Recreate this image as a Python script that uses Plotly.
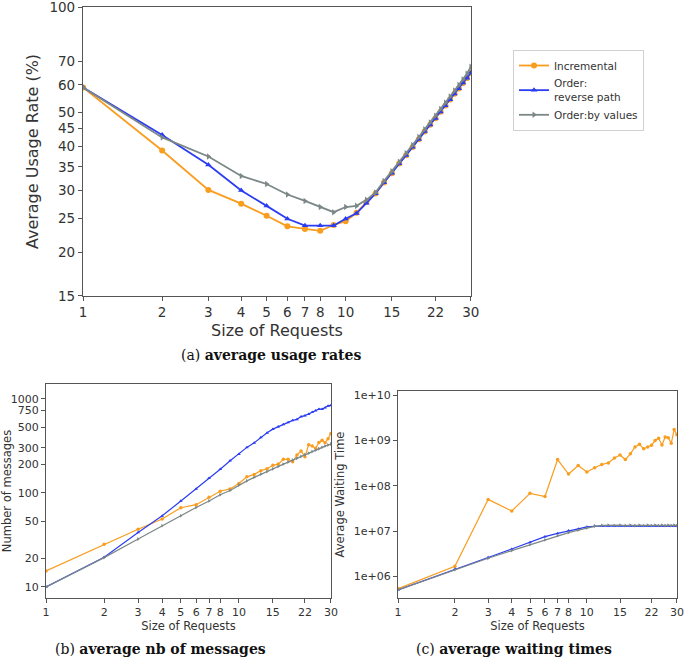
import plotly.graph_objects as go

sizes = list(range(1, 31))

# (a) average usage rates (%)
inc_usage = [59.0, 39.0, 30.1, 27.5, 25.4, 23.7, 23.3, 23.0, 23.9, 24.5, 25.9, 27.8, 29.4, 31.6, 33.6,
             35.8, 37.8, 39.9, 42.0, 44.2, 46.2, 48.2, 50.3, 52.4, 54.5, 56.6, 58.6, 60.8, 62.8, 65.0]
rev_usage = [59.0, 43.2, 35.5, 30.0, 27.1, 24.9, 23.8, 23.8, 23.8, 24.9, 25.8, 27.6, 29.4, 31.6, 33.6,
             35.8, 37.8, 39.9, 42.0, 44.2, 46.2, 48.2, 50.3, 52.4, 54.5, 56.6, 58.6, 60.8, 62.8, 65.0]
val_usage = [59.0, 42.5, 37.5, 33.0, 31.3, 29.2, 28.0, 26.9, 26.0, 26.9, 27.1, 28.2, 29.6, 31.9, 34.0,
             36.2, 38.3, 40.4, 42.6, 44.8, 46.9, 49.0, 51.2, 53.4, 55.6, 57.8, 60.0, 62.2, 64.6, 67.6]

# (b) average number of messages
inc_msgs = [14.8, 28.4, 41, 52.7, 69.5, 74.8, 90, 104, 110, 126, 148, 157, 172, 180, 196,
            202, 227, 227, 214, 252, 278, 242, 324, 314, 297, 343, 361, 340, 376, 428]
rev_msgs = [10, 20.7, 38, 57, 82, 110, 143, 178, 219, 258, 304, 340, 388, 434, 475,
            503, 533, 560, 588, 603, 645, 661, 684, 718, 748, 773, 773, 805, 839, 850]
val_msgs = [10, 20.5, 32.3, 44.8, 57, 70, 82, 95.5, 106, 121, 134, 146, 158, 168, 180,
            191, 202, 212, 223, 233, 243, 254, 264, 274, 284, 294, 304, 314, 322, 330]

# (c) average waiting times
inc_wait = [5.35e5, 1.66e6, 5.0e7, 2.77e7, 6.8e7, 5.8e7, 3.8e8, 1.82e8, 2.8e8, 2.02e8, 2.5e8, 2.95e8,
            3.2e8, 4.1e8, 4.8e8, 3.8e8, 5.1e8, 7.2e8, 8.3e8, 6.6e8, 7.2e8, 7.9e8, 1.0e9, 1.12e9,
            8.0e8, 1.2e9, 1.15e9, 8.7e8, 1.75e9, 1.35e9]
rev_wait = [5.0e5, 1.45e6, 2.6e6, 4.0e6, 5.6e6, 7.5e6, 8.9e6, 1.02e7, 1.12e7, 1.23e7, 1.29e7, 1.30e7,
            1.29e7, 1.30e7, 1.29e7, 1.30e7, 1.29e7, 1.30e7, 1.29e7, 1.30e7, 1.29e7, 1.30e7, 1.29e7,
            1.30e7, 1.29e7, 1.30e7, 1.29e7, 1.30e7, 1.29e7, 1.30e7]
val_wait = [5.0e5, 1.4e6, 2.5e6, 3.7e6, 5.0e6, 6.4e6, 7.9e6, 9.2e6, 1.05e7, 1.17e7, 1.27e7, 1.33e7,
            1.35e7, 1.32e7, 1.35e7, 1.32e7, 1.35e7, 1.32e7, 1.35e7, 1.32e7, 1.35e7, 1.32e7, 1.35e7,
            1.32e7, 1.35e7, 1.32e7, 1.35e7, 1.32e7, 1.35e7, 1.32e7]

x_ticks = [1, 2, 3, 4, 5, 6, 7, 8, 10, 15, 22, 30]
usage_ticks = [15, 20, 25, 30, 35, 40, 45, 50, 60, 70, 100]
msg_ticks = [10, 20, 50, 100, 200, 300, 500, 750, 1000]
wait_ticks = [1e6, 1e7, 1e8, 1e9, 1e10]
wait_labels = ["1e+06", "1e+07", "1e+08", "1e+09", "1e+10"]

names = ["Incremental", "Order:<br>reverse path", "Order:by values"]
colors = ["#f99d1f", "#2b3df2", "#7c8787"]
symbols = ["circle", "triangle-up", "triangle-right"]

W, H = 685, 659
def dx(a, b):
    return [a / W, b / W]
def dy(top, bottom):
    return [1 - bottom / H, 1 - top / H]

fig = go.Figure()

series = [
    ("x", "y", [inc_usage, rev_usage, val_usage], 6, 1.8, True),
    ("x2", "y2", [inc_msgs, rev_msgs, val_msgs], 3.5, 1.2, False),
    ("x3", "y3", [inc_wait, rev_wait, val_wait], 3.5, 1.2, False),
]
for xa, ya, data, ms, lw, show in series:
    for i, vals in enumerate(data):
        fig.add_trace(go.Scatter(
            x=sizes, y=vals, xaxis=xa, yaxis=ya, mode="lines+markers",
            name=names[i], showlegend=show, legendgroup=str(i),
            line=dict(color=colors[i], width=lw),
            marker=dict(color=colors[i], symbol=symbols[i], size=ms if i == 0 else ms * 0.95),
        ))

axcol = "#555555"
txtcol = "#333333"
def axis_common(fs):
    return dict(type="log", showgrid=False, zeroline=False, showline=True, linecolor=axcol,
                linewidth=1.2, mirror=True, ticks="outside", ticklen=4, tickcolor=axcol,
                automargin=False, ticklabeloverflow="allow",
                tickfont=dict(family="DejaVu Sans", size=fs, color=txtcol))

fig.update_layout(
    width=W, height=H, margin=dict(l=0, r=0, t=0, b=0, autoexpand=False),
    paper_bgcolor="white", plot_bgcolor="white",
    font=dict(family="DejaVu Sans", color=txtcol),
    xaxis=dict(**axis_common(13.5), domain=dx(83, 471), range=[-0.0005, 1.4776], anchor="y",
               tickvals=x_ticks, ticktext=[str(v) for v in x_ticks],
               title=dict(text="Size of Requests", font=dict(size=16, color=txtcol), standoff=5)),
    yaxis=dict(**axis_common(13.5), domain=dy(7, 296), range=[1.1758, 2.0006], anchor="x",
               tickvals=usage_ticks, ticktext=[str(v) for v in usage_ticks],
               title=dict(text="Average Usage Rate (%)", font=dict(size=16, color=txtcol), standoff=6)),
    xaxis2=dict(**axis_common(11), domain=dx(46, 331), range=[-0.0005, 1.4776], anchor="y2",
                tickvals=x_ticks, ticktext=[str(v) for v in x_ticks],
                title=dict(text="Size of Requests", font=dict(size=11.5, color=txtcol), standoff=3)),
    yaxis2=dict(**axis_common(11), domain=dy(384, 598), range=[0.883, 3.156], anchor="x2",
                tickvals=msg_ticks, ticktext=[str(v) for v in msg_ticks],
                title=dict(text="Number of messages", font=dict(size=11.5, color=txtcol), standoff=2)),
    xaxis3=dict(**axis_common(11), domain=dx(398, 677), range=[-0.0005, 1.4776], anchor="y3",
                tickvals=x_ticks, ticktext=[str(v) for v in x_ticks],
                title=dict(text="Size of Requests", font=dict(size=11.5, color=txtcol), standoff=3)),
    yaxis3=dict(**axis_common(11), domain=dy(391, 598), range=[5.52, 10.095], anchor="x3",
                tickvals=wait_ticks, ticktext=wait_labels,
                title=dict(text="Average Waiting Time", font=dict(size=11.5, color=txtcol), standoff=6)),
    legend=dict(x=513 / W, y=1 - 50 / H, xanchor="left", yanchor="top",
                bgcolor="white", bordercolor="#d0d0d0", borderwidth=1,
                font=dict(family="DejaVu Sans", size=10.5, color=txtcol),
                tracegroupgap=0, itemwidth=30),
)

cap_font = dict(family="DejaVu Serif", size=14, color="#111111")
captions = [("(a) <b>average usage rates</b>", 271, 355),
            ("(b) <b>average nb of messages</b>", 160, 649),
            ("(c) <b>average waiting times</b>", 514, 649)]
for txt, cx, cy in captions:
    fig.add_annotation(text=txt, x=cx / W, y=1 - cy / H, xref="paper", yref="paper",
                       showarrow=False, xanchor="center", yanchor="middle", font=cap_font)

fig.write_html("out.html", config={"displayModeBar": False},
               post_script="document.body.style.margin='0';document.body.style.overflow='hidden';")
